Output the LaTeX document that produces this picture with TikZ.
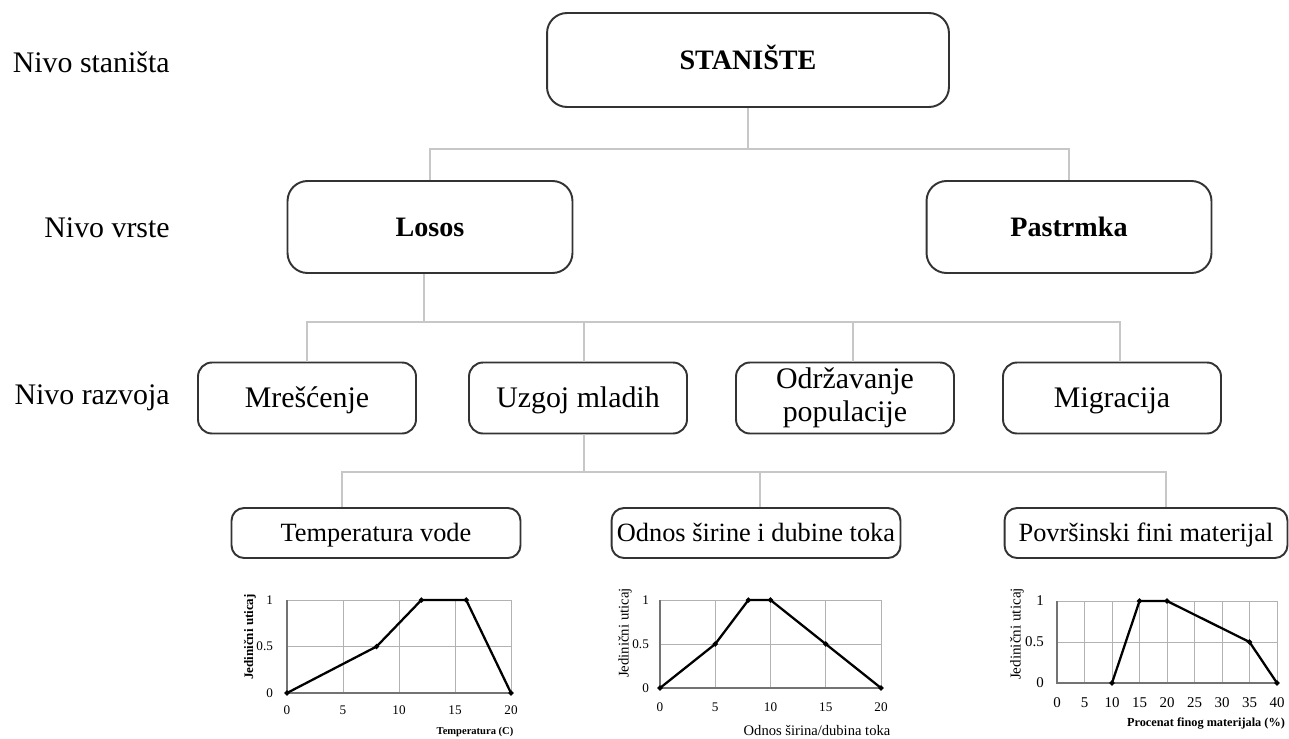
\documentclass[tikz,border=0pt]{standalone}
\usepackage{fontspec}
\setmainfont{Liberation Serif}
\usetikzlibrary{shapes.geometric}

\tikzset{
	tierbox/.style={draw=black!80, line width=1.1pt, align=center, inner sep=0pt},
	bigbox/.style={tierbox, rounded corners=0.4cm, minimum width=5.7cm, minimum height=1.84cm, text height=10.6pt, text depth=0pt, font=\fontsize{16}{19}\selectfont\bfseries},
	midbox/.style={tierbox, rounded corners=0.28cm, minimum width=4.36cm, minimum height=1.42cm, text height=11.3pt, text depth=0pt, font=\fontsize{17}{18}\selectfont},
	smallbox/.style={tierbox, rounded corners=0.25cm, minimum width=5.78cm, minimum height=1cm, text height=10pt, text depth=0pt, font=\fontsize{15}{18}\selectfont},
	levellbl/.style={anchor=east, inner sep=0pt, font=\fontsize{17}{20}\selectfont},
	conn/.style={draw=black!22, line width=0.8pt},
	gridline/.style={black!30, line width=0.5pt},
	axisline/.style={black!55, line width=0.7pt},
	datacurve/.style={black, line width=1.3pt},
	dot/.style={diamond, fill=black, inner sep=0pt, minimum size=3.4pt},
	ticklbl/.style={font=\fontsize{7.5}{8}\selectfont},
}

\begin{document}
\begin{tikzpicture}[x=0.02cm, y=-0.02cm]
	\useasboundingbox (0,0) rectangle (1289,738);

	% levels
	\node[levellbl] (nivo1) at (170,62) {Nivo staništa};
	\node[levellbl] (nivo2) at (170,228) {Nivo vrste};
	\node[levellbl] (nivo3) at (170,398) {Nivo razvoja};

	% boxes
	\node[bigbox, minimum width=8.04cm, minimum height=1.88cm] (stan) at (748,60) {STANIŠTE};
	\node[bigbox] (losos) at (430,227) {Losos};
	\node[bigbox] (pastrmka) at (1069,227) {Pastrmka};
	\node[midbox] (mres) at (307,398) {Mrešćenje};
	\node[midbox] (uzgoj) at (578,398) {Uzgoj mladih};
	\node[midbox, text height=, text depth=, font=\fontsize{17}{19}\selectfont] (odrz) at (845,398) {Održavanje\\populacije};
	\node[midbox] (migr) at (1112,398) {Migracija};
	\node[smallbox] (temp) at (376,533) {Temperatura vode};
	\node[smallbox] (odnos) at (756,533) {Odnos širine i dubine toka};
	\node[smallbox, minimum width=5.66cm] (povr) at (1146,533) {Površinski fini materijal};

	% connectors
	\coordinate (bus1) at (0,149);
	\coordinate (bus2) at (0,322);
	\coordinate (bus3) at (0,472);
	\coordinate (losbot) at ([shift={(-6,0)}]losos.south);
	\coordinate (uzgtop) at ([shift={(6,0)}]uzgoj.north);
	\coordinate (uzgbot) at ([shift={(6,0)}]uzgoj.south);
	\coordinate (odrtop) at ([shift={(8,0)}]odrz.north);
	\coordinate (migtop) at ([shift={(8,0)}]migr.north);
	\coordinate (temtop) at ([shift={(-34,0)}]temp.north);
	\coordinate (odntop) at ([shift={(4,0)}]odnos.north);
	\coordinate (povtop) at ([shift={(20,0)}]povr.north);
	\draw[conn] (stan.south) -- (stan.south |- bus1);
	\draw[conn] (losos.north) |- (pastrmka.north |- bus1) -- (pastrmka.north);
	\draw[conn] (losbot) -- (losbot |- bus2);
	\draw[conn] (mres.north) |- (migtop |- bus2) -- (migtop);
	\draw[conn] (uzgtop) -- (uzgtop |- bus2);
	\draw[conn] (odrtop) -- (odrtop |- bus2);
	\draw[conn] (uzgbot) -- (uzgbot |- bus3);
	\draw[conn] (temtop) |- (povtop |- bus3) -- (povtop);
	\draw[conn] (odntop) -- (odntop |- bus3);

	% chart 1: temperatura
	\begin{scope}[shift={(287,693)}, xscale=11.2, yscale=-93]
		\foreach \gx in {5,10,15} \draw[gridline] (\gx,0) -- (\gx,1);
		\draw[gridline] (0,0.5) -- (20,0.5);
		\draw[gridline] (0,1) -- (20,1) -- (20,0);
		\draw[axisline] (0,1) -- (0,0) -- (20,0);
		\foreach \gx in {0,5,...,20} \node[ticklbl, yshift=-9.6pt] (ta\gx) at (\gx,0) {\gx};
		\foreach \gy/\lbl [count=\i] in {0/0,0.5/0.5,1/1} \node[ticklbl, anchor=east, xshift=-4.5pt] (tay\i) at (0,\gy) {\lbl};
		\draw[datacurve] plot coordinates {(0,0) (8,0.5) (12,1) (16,1) (20,0)};
		\foreach \p [count=\i] in {(0,0),(8,0.5),(12,1),(16,1),(20,0)} \node[dot] (ma\i) at \p {};
	\end{scope}
	\node[rotate=90, font=\fontsize{7.4}{8}\selectfont\bfseries] (ya) at (250,637) {Jedinični uticaj};
	\node[font=\fontsize{6}{7}\selectfont\bfseries] (xa) at (475,732) {Temperatura (C)};

	% chart 2: odnos sirina/dubina
	\begin{scope}[shift={(660,688)}, xscale=11.05, yscale=-88]
		\foreach \gx in {5,10,15} \draw[gridline] (\gx,0) -- (\gx,1);
		\draw[gridline] (0,0.5) -- (20,0.5);
		\draw[gridline] (0,1) -- (20,1) -- (20,0);
		\draw[axisline] (0,1) -- (0,0) -- (20,0);
		\foreach \gx in {0,5,...,20} \node[ticklbl, yshift=-10.8pt] (tb\gx) at (\gx,0) {\gx};
		\foreach \gy/\lbl [count=\i] in {0/0,0.5/0.5,1/1} \node[ticklbl, anchor=east, xshift=-2.8pt] (tby\i) at (0,\gy) {\lbl};
		\draw[datacurve] plot coordinates {(0,0) (5,0.5) (8,1) (10,1) (15,0.5) (20,0)};
		\foreach \p [count=\i] in {(0,0),(5,0.5),(8,1),(10,1),(15,0.5),(20,0)} \node[dot] (mb\i) at \p {};
	\end{scope}
	\node[rotate=90, font=\fontsize{8.4}{9}\selectfont] (yb) at (625,633) {Jedinični uticaj};
	\node[font=\fontsize{8.3}{9}\selectfont, inner sep=1pt] (xb) at (817,730) {Odnos širina/dubina toka};

	% chart 3: fini materijal
	\begin{scope}[shift={(1057,683)}, xscale=5.5, yscale=-82]
		\foreach \gx in {5,10,...,35} \draw[gridline] (\gx,0) -- (\gx,1);
		\draw[gridline] (0,0.5) -- (40,0.5);
		\draw[gridline] (0,1) -- (40,1) -- (40,0);
		\draw[axisline] (0,1) -- (0,0) -- (40,0);
		\foreach \gx in {0,5,...,40} \node[ticklbl, font=\fontsize{8.5}{9}\selectfont, yshift=-11.3pt] (tc\gx) at (\gx,0) {\gx};
		\foreach \gy/\lbl [count=\i] in {0/0,0.5/0.5,1/1} \node[ticklbl, font=\fontsize{8.5}{9}\selectfont, anchor=east, xshift=-4pt] (tcy\i) at (0,\gy) {\lbl};
		\draw[datacurve] plot coordinates {(10,0) (15,1) (20,1) (35,0.5) (40,0)};
		\foreach \p [count=\i] in {(10,0),(15,1),(20,1),(35,0.5),(40,0)} \node[dot] (mc\i) at \p {};
	\end{scope}
	\node[rotate=90, font=\fontsize{8.6}{9}\selectfont] (yc) at (1017,634) {Jedinični uticaj};
	\node[font=\fontsize{7}{8}\selectfont\bfseries] (xc) at (1206,724) {Procenat finog materijala (\%)};
\end{tikzpicture}
\end{document}
